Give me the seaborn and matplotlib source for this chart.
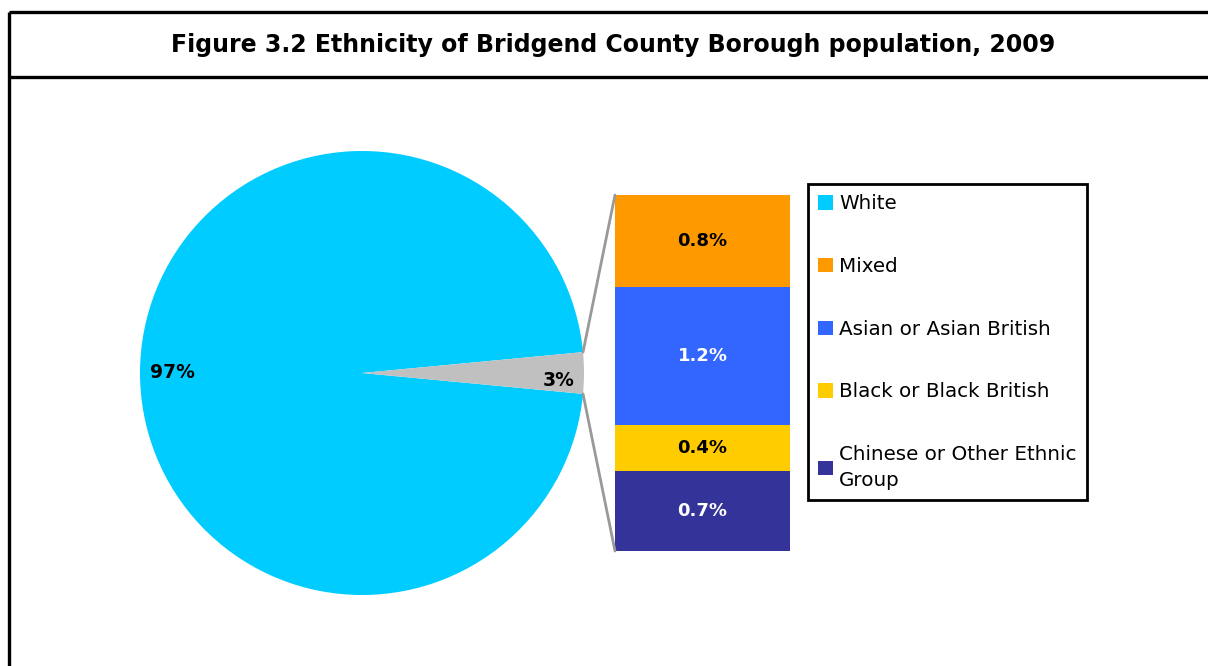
import matplotlib
matplotlib.use("Agg")
import matplotlib.pyplot as plt
from matplotlib.lines import Line2D
from matplotlib.patches import ConnectionPatch, Patch
import numpy as np
import pandas as pd
import seaborn as sns

# Main pie: share of population
pie_labels = ["White", "Other"]
pie_values = [97, 3]
pie_colors = ["#00CCFF", "#C0C0C0"]

# Breakdown of the "Other" share (percent of total population)
sub_groups = ["Mixed", "Asian or Asian British", "Black or Black British",
              "Chinese or Other Ethnic Group"]
sub_values = [0.8, 1.2, 0.4, 0.7]
sub_colors = ["#FF9900", "#3366FF", "#FFCC00", "#333399"]
sub_text_colors = ["black", "white", "black", "white"]

legend_labels = ["White", "Mixed", "Asian or Asian British",
                 "Black or Black British", "Chinese or Other Ethnic\nGroup"]
legend_colors = ["#00CCFF"] + sub_colors

title = "Figure 3.2 Ethnicity of Bridgend County Borough population, 2009"

sns.set_theme(style="white")
plt.rcParams["font.family"] = ["DejaVu Sans"]
plt.rcParams["text.color"] = "black"

W, H = 1208, 666
fig = plt.figure(figsize=(W / 100, H / 100), dpi=100)
fig.patch.set_facecolor("white")


def px_box(x0, y0, x1, y1):
    """Figure-fraction rectangle from pixel corners (top-left origin)."""
    return [x0 / W, 1 - y1 / H, (x1 - x0) / W, (y1 - y0) / H]


# Frame and title band
frame_kw = dict(color="black", lw=2.4, transform=fig.transFigure, solid_capstyle="butt")
fig.add_artist(Line2D([9 / W, 1], [1 - 12 / H, 1 - 12 / H], **frame_kw))
fig.add_artist(Line2D([9 / W, 1], [1 - 77 / H, 1 - 77 / H], **frame_kw))
fig.add_artist(Line2D([9 / W, 9 / W], [0, 1 - 12 / H], **frame_kw))
fig.text(613 / W, 1 - 45 / H, title, ha="center", va="center",
         fontsize=17, fontweight="bold")

# Pie of the whole population
cx, cy, r = 362, 373, 222
ax_pie = fig.add_axes(px_box(cx - r, cy - r, cx + r, cy + r))
other_share = pie_values[1] / sum(pie_values)
ax_pie.pie(pie_values, colors=pie_colors, startangle=180 * other_share,
           counterclock=True, radius=1, wedgeprops=dict(linewidth=0))
ax_pie.set_xlim(-1, 1)
ax_pie.set_ylim(-1, 1)
ax_pie.set_aspect("equal")
ax_pie.axis("off")
ax_pie.text(-0.856, 0.0, f"{pie_values[0]}%", ha="center", va="center",
            fontsize=13.5, fontweight="bold")
ax_pie.text(0.885, -0.035, f"{pie_values[1]}%", ha="center", va="center",
            fontsize=13.5, fontweight="bold")

# Stacked bar breaking down the small slice (drawn as overlapping cumulative bars)
ax_bar = fig.add_axes(px_box(615, 195, 790, 551))
cum = pd.Series(sub_values[::-1]).cumsum()[::-1].tolist()  # top segment first
bottoms = cum[1:] + [0.0]
for total, color in zip(cum, sub_colors):
    sns.barplot(x=[""], y=[total], color=color, width=1.0, saturation=1,
                linewidth=0, ax=ax_bar)
for val, base, tc in zip(sub_values, bottoms, sub_text_colors):
    ax_bar.text(0, base + val / 2, f"{val}%", ha="center", va="center",
                fontsize=13, fontweight="bold", color=tc)
ax_bar.set_xlim(-0.5, 0.5)
ax_bar.set_ylim(0, sum(sub_values))
ax_bar.axis("off")

# Connector lines from slice edge to bar corners
half = np.pi * other_share
for sign, ybar in [(1, sum(sub_values)), (-1, 0)]:
    con = ConnectionPatch(xyA=(np.cos(half), sign * np.sin(half)), coordsA=ax_pie.transData,
                          xyB=(-0.5, ybar), coordsB=ax_bar.transData,
                          color="#999999", lw=2)
    fig.add_artist(con)

# Legend
handles = [Patch(facecolor=c, edgecolor="none") for c in legend_colors]
leg = fig.legend(handles, legend_labels, loc="upper left",
                 bbox_to_anchor=(808 / W, 1 - 184 / H), borderaxespad=0,
                 fontsize=14.3, frameon=True, fancybox=False, edgecolor="black",
                 framealpha=1, handlelength=0.75, handleheight=0.75,
                 handletextpad=0.3, labelspacing=2.2, borderpad=0.52)
leg.get_frame().set_linewidth(2)
for t in leg.get_texts():
    t.set_linespacing(1.45)

fig.savefig("out.png", dpi=100, facecolor="white")
